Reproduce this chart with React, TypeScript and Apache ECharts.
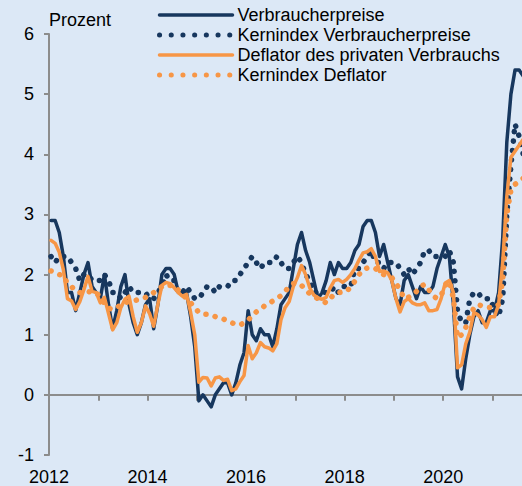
import React, { useEffect, useRef } from 'react';
import * as echarts from 'echarts';

// Monthly data, January 2012 - August 2021 (year-on-year, percent)
const startYear = 2012;

const seriesNames = [
  'Verbraucherpreise',
  'Kernindex Verbraucherpreise',
  'Deflator des privaten Verbrauchs',
  'Kernindex Deflator',
];

const cpi = [
  2.9, 2.9, 2.7, 2.3, 1.7, 1.7, 1.4, 1.7, 2.0, 2.2, 1.8, 1.7,
  1.6, 2.0, 1.5, 1.1, 1.4, 1.8, 2.0, 1.5, 1.2, 1.0, 1.2, 1.5,
  1.6, 1.1, 1.5, 2.0, 2.1, 2.1, 2.0, 1.7, 1.7, 1.7, 1.3, 0.8,
  -0.1, 0.0, -0.1, -0.2, 0.0, 0.1, 0.2, 0.2, 0.0, 0.2, 0.5, 0.7,
  1.4, 1.0, 0.9, 1.1, 1.0, 1.0, 0.8, 1.1, 1.5, 1.6, 1.7, 2.1,
  2.5, 2.7, 2.4, 2.2, 1.9, 1.6, 1.7, 1.9, 2.2, 2.0, 2.2, 2.1,
  2.1, 2.2, 2.4, 2.5, 2.8, 2.9, 2.9, 2.7, 2.3, 2.5, 2.2, 1.9,
  1.6, 1.5, 1.9, 2.0, 1.8, 1.6, 1.8, 1.7, 1.7, 1.8, 2.1, 2.3,
  2.5, 2.3, 1.5, 0.3, 0.1, 0.6, 1.0, 1.3, 1.4, 1.2, 1.2, 1.4,
  1.4, 1.7, 2.6, 4.2, 5.0, 5.4, 5.4, 5.3,
];

const coreCpi = [
  2.3, 2.2, 2.3, 2.3, 2.3, 2.2, 2.1, 1.9, 2.0, 2.0, 1.9, 1.9,
  1.9, 2.0, 1.9, 1.7, 1.7, 1.6, 1.7, 1.8, 1.7, 1.7, 1.7, 1.7,
  1.6, 1.6, 1.7, 1.8, 2.0, 1.9, 1.9, 1.7, 1.7, 1.8, 1.7, 1.6,
  1.6, 1.7, 1.8, 1.8, 1.7, 1.8, 1.8, 1.8, 1.9, 1.9, 2.0, 2.1,
  2.2, 2.3, 2.2, 2.1, 2.2, 2.2, 2.2, 2.3, 2.2, 2.1, 2.1, 2.2,
  2.3, 2.2, 2.0, 1.9, 1.7, 1.7, 1.7, 1.7, 1.7, 1.8, 1.7, 1.8,
  1.8, 1.8, 2.1, 2.1, 2.2, 2.3, 2.4, 2.2, 2.2, 2.1, 2.2, 2.2,
  2.2, 2.1, 2.0, 2.1, 2.0, 2.1, 2.2, 2.4, 2.4, 2.3, 2.3, 2.3,
  2.3, 2.4, 2.2, 1.4, 1.2, 1.2, 1.6, 1.7, 1.7, 1.6, 1.6, 1.6,
  1.4, 1.3, 1.6, 3.0, 3.8, 4.5, 4.3, 4.0,
];

const pce = [
  2.57, 2.52, 2.37, 2.08, 1.6, 1.56, 1.42, 1.55, 1.75, 1.97, 1.72, 1.7,
  1.53, 1.62, 1.35, 1.08, 1.2, 1.45, 1.59, 1.64, 1.3, 1.04, 1.2, 1.48,
  1.35, 1.14, 1.5, 1.82, 1.87, 1.85, 1.78, 1.7, 1.64, 1.67, 1.37, 1.0,
  0.21, 0.29, 0.28, 0.15, 0.28, 0.3, 0.24, 0.26, 0.07, 0.1, 0.22, 0.32,
  0.82, 0.6, 0.7, 0.87, 0.8, 0.78, 0.73, 0.85, 1.25, 1.45, 1.55, 1.8,
  1.95, 2.15, 2.0, 1.78, 1.66, 1.61, 1.59, 1.62, 1.78, 1.9, 1.92, 1.87,
  1.92, 2.0, 2.1, 2.24, 2.36, 2.38, 2.43, 2.3, 2.05, 2.06, 2.03, 1.9,
  1.6, 1.38, 1.55, 1.6, 1.53, 1.5, 1.5, 1.53, 1.4, 1.4, 1.42, 1.6,
  1.86, 1.9, 1.7, 0.45, 0.5, 0.85, 1.05, 1.37, 1.33, 1.25, 1.12, 1.3,
  1.3, 1.5, 2.2, 3.3, 3.95, 4.05, 4.15, 4.25,
];

const corePce = [
  2.06, 2.04, 2.0, 1.98, 1.85, 1.8, 1.72, 1.7, 1.72, 1.72, 1.7, 1.7,
  1.62, 1.52, 1.44, 1.42, 1.45, 1.5, 1.53, 1.55, 1.56, 1.58, 1.6, 1.62,
  1.65, 1.7, 1.75, 1.8, 1.83, 1.82, 1.8, 1.74, 1.67, 1.6, 1.53, 1.45,
  1.37, 1.34, 1.34, 1.33, 1.3, 1.28, 1.26, 1.23, 1.2, 1.17, 1.16, 1.2,
  1.24, 1.32, 1.38, 1.42, 1.48, 1.52, 1.56, 1.6, 1.65, 1.72, 1.8, 1.85,
  1.86, 1.82, 1.75, 1.68, 1.64, 1.6, 1.57, 1.53, 1.6, 1.68, 1.7, 1.71,
  1.72, 1.8, 1.89, 2.0, 2.08, 2.11, 2.1, 2.1, 2.05, 2.0, 1.97, 1.95,
  1.85, 1.75, 1.6, 1.62, 1.66, 1.72, 1.8, 1.84, 1.75, 1.65, 1.6, 1.65,
  1.82, 1.89, 1.6, 0.95, 1.0, 1.12, 1.3, 1.45, 1.5, 1.48, 1.46, 1.45,
  1.45, 1.5, 1.9, 3.0, 3.4, 3.5, 3.55, 3.6,
];

const xTickYears = [2012, 2013, 2014, 2015, 2016, 2017, 2018, 2019, 2020, 2021];
const xLabelYears = [2012, 2014, 2016, 2018, 2020];

const NAVY = '#17375e';
const ORANGE = '#f79646';
const AXIS = '#8c8c8c';
const FONT = '"Liberation Sans", Arial, Helvetica, sans-serif';

// monthly observations placed at mid-month
const toPoints = (values: number[]) =>
  values.map((v, i) => [startYear + (i + 0.5) / 12, v]);

export default function App() {
  const ref = useRef<HTMLDivElement>(null);

  useEffect(() => {
    if (!ref.current) return;
    const chart = echarts.init(ref.current, undefined, { renderer: 'svg' });

    const solid = (color: string) => ({
      color,
      width: 3.5,
      join: 'round' as const,
      cap: 'round' as const,
    });
    const dotted = (color: string) => ({
      color,
      width: 5.5,
      type: [0.1, 9.4],
      cap: 'round' as const,
      join: 'round' as const,
    });

    const xRange = { min: 2012, max: 2021.6 };
    const hiddenSymbol = { opacity: 0, borderWidth: 0 };

    chart.setOption({
      animation: false,
      backgroundColor: '#dce8f6',
      textStyle: { fontFamily: FONT },
      grid: { left: 49, right: 0, top: 34, bottom: 30 },
      legend: {
        orient: 'vertical',
        left: 157,
        top: 6,
        padding: 0,
        itemWidth: 73,
        itemHeight: 12,
        itemGap: 2,
        textStyle: { fontSize: 18, color: '#000', fontFamily: FONT },
        data: [
          { name: seriesNames[0], lineStyle: { width: 3.5 }, itemStyle: hiddenSymbol },
          {
            name: seriesNames[1],
            lineStyle: { width: 5, type: [0.1, 11.6] },
            itemStyle: hiddenSymbol,
          },
          { name: seriesNames[2], lineStyle: { width: 3.5 }, itemStyle: hiddenSymbol },
          {
            name: seriesNames[3],
            lineStyle: { width: 5, type: [0.1, 11.6] },
            itemStyle: hiddenSymbol,
          },
        ],
      },
      xAxis: [
        {
          type: 'value',
          ...xRange,
          axisLine: { show: true, onZero: true, lineStyle: { color: AXIS, width: 2 } },
          axisTick: {
            show: true,
            customValues: xTickYears,
            length: 6,
            lineStyle: { color: AXIS, width: 2 },
          },
          axisLabel: { show: false },
          splitLine: { show: false },
        },
        {
          type: 'value',
          ...xRange,
          position: 'bottom',
          axisLine: { show: false, onZero: false },
          axisTick: { show: false },
          axisLabel: {
            customValues: xLabelYears,
            formatter: (v: number) => String(Math.round(v)),
            fontSize: 18,
            color: '#000',
            margin: 13,
            fontFamily: FONT,
          },
          splitLine: { show: false },
        },
      ],
      yAxis: {
        type: 'value',
        min: -1,
        max: 6,
        interval: 1,
        name: 'Prozent',
        nameLocation: 'end',
        nameGap: 14,
        nameTextStyle: {
          align: 'left',
          verticalAlign: 'middle',
          fontSize: 18,
          color: '#000',
          fontFamily: FONT,
        },
        axisLine: { show: true, onZero: false, lineStyle: { color: AXIS, width: 2 } },
        axisTick: { show: true, length: 5, lineStyle: { color: AXIS, width: 2 } },
        axisLabel: { fontSize: 18, color: '#000', margin: 15, fontFamily: FONT },
        splitLine: { show: false },
      },
      series: [
        {
          name: seriesNames[0],
          type: 'line',
          data: toPoints(cpi),
          symbol: 'none',
          showSymbol: false,
          lineStyle: solid(NAVY),
          itemStyle: { color: NAVY },
          clip: true,
        },
        {
          name: seriesNames[1],
          type: 'line',
          data: toPoints(coreCpi),
          symbol: 'none',
          showSymbol: false,
          lineStyle: dotted(NAVY),
          itemStyle: { color: NAVY },
          clip: true,
        },
        {
          name: seriesNames[2],
          type: 'line',
          data: toPoints(pce),
          symbol: 'none',
          showSymbol: false,
          lineStyle: solid(ORANGE),
          itemStyle: { color: ORANGE },
          clip: true,
        },
        {
          name: seriesNames[3],
          type: 'line',
          data: toPoints(corePce),
          symbol: 'none',
          showSymbol: false,
          lineStyle: dotted(ORANGE),
          itemStyle: { color: ORANGE },
          clip: true,
        },
      ],
    });

    return () => chart.dispose();
  }, []);

  return (
    <div
      ref={ref}
      style={{ position: 'fixed', left: 0, top: 0, width: 522, height: 486 }}
    />
  );
}
